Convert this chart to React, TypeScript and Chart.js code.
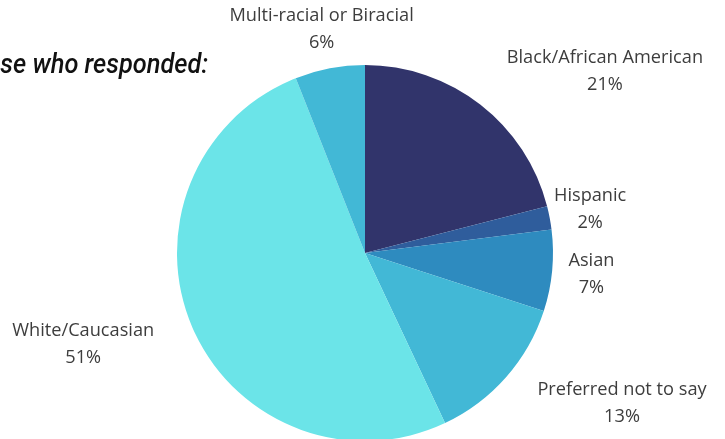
import React, { useEffect, useRef } from "react";
import { Chart, registerables } from "chart.js";

Chart.register(...registerables);

const categories = [
  "Black/African American",
  "Hispanic",
  "Asian",
  "Preferred not to say",
  "White/Caucasian",
  "Multi-racial or Biracial",
];
const percentages = [21, 2, 7, 13, 51, 6];
const sliceColors = ["#31346b", "#2f5d9c", "#2e8bbf", "#42b8d6", "#6be4e8", "#42b8d6"];
const titleText = "Those who responded:";
const titleVisible = "se who responded:";

// label placement: angle adjustment (deg) from slice middle, and distance as a factor of radius
const labelAngleAdjust = [15.1, -0.2, 0.1, -11, 5.5, -0.2];
const labelDistance = [1.6, 1.22, 1.21, 1.585, 1.575, 1.21];

const LABEL_FONT = "400 18.2px 'Open Sans'";
const TITLE_FONT = "italic 500 27px Roboto";

const labelPlugin = {
  id: "outerLabels",
  afterDraw(chart: any) {
    const ctx = chart.ctx;
    const meta = chart.getDatasetMeta(0);
    const total = percentages.reduce((a, b) => a + b, 0);
    ctx.save();
    ctx.font = LABEL_FONT;
    ctx.fillStyle = "#3d3d3d";
    ctx.textAlign = "center";
    ctx.textBaseline = "middle";
    meta.data.forEach((arc: any, i: number) => {
      const { x, y, startAngle, endAngle, outerRadius } = arc.getProps(
        ["x", "y", "startAngle", "endAngle", "outerRadius"],
        true
      );
      const mid = (startAngle + endAngle) / 2 + (labelAngleAdjust[i] * Math.PI) / 180;
      const d = outerRadius * labelDistance[i];
      const lx = x + Math.cos(mid) * d;
      const ly = y + Math.sin(mid) * d;
      const pct = Math.round((percentages[i] / total) * 100) + "%";
      ctx.fillText(categories[i], lx, ly - 13.5);
      ctx.fillText(pct, lx, ly + 13.5);
    });
    ctx.restore();

    // title, partially cut off at the left edge of the picture
    ctx.save();
    ctx.font = TITLE_FONT;
    ctx.fillStyle = "#111111";
    ctx.textAlign = "left";
    ctx.textBaseline = "middle";
    const mVis = ctx.measureText(titleVisible);
    const wVisible = mVis.actualBoundingBoxRight + mVis.actualBoundingBoxLeft;
    const fullInk = ctx.measureText(titleText).actualBoundingBoxRight;
    const inkLeft = 0.3;
    const inkRight = 208;
    const sx = (inkRight - inkLeft) / wVisible;
    const startVisible = fullInk - wVisible;
    ctx.translate(inkLeft - startVisible * sx, 66);
    ctx.scale(sx, 1);
    ctx.fillText(titleText, 0, 0);
    ctx.restore();
  },
};

export default function App() {
  const ref = useRef<HTMLCanvasElement | null>(null);
  useEffect(() => {
    if (!ref.current) return;
    let chart: Chart | null = null;
    let cancelled = false;
    const make = () => {
      if (cancelled || !ref.current) return;
      chart = new Chart(ref.current, {
        type: "pie",
        data: {
          labels: categories,
          datasets: [{ data: percentages, backgroundColor: sliceColors, borderWidth: 0 }],
        },
        options: {
          responsive: false,
          animation: false,
          layout: { padding: { left: 5, right: 0, top: 65, bottom: 19 } },
          plugins: { legend: { display: false }, tooltip: { enabled: false }, title: { display: false } },
        },
        plugins: [labelPlugin],
      });
    };
    const fonts: any = (document as any).fonts;
    if (fonts && fonts.load) {
      Promise.all([fonts.load(TITLE_FONT, titleText), fonts.load(LABEL_FONT, "Abc")])
        .catch(() => null)
        .then(make);
    } else {
      make();
    }
    return () => {
      cancelled = true;
      if (chart) chart.destroy();
    };
  }, []);
  return (
    <div style={{ position: "fixed", left: 0, top: 0, width: 725, height: 439, overflow: "hidden", background: "#ffffff" }}>
      <canvas ref={ref} width={725} height={460} style={{ display: "block" }} />
    </div>
  );
}
